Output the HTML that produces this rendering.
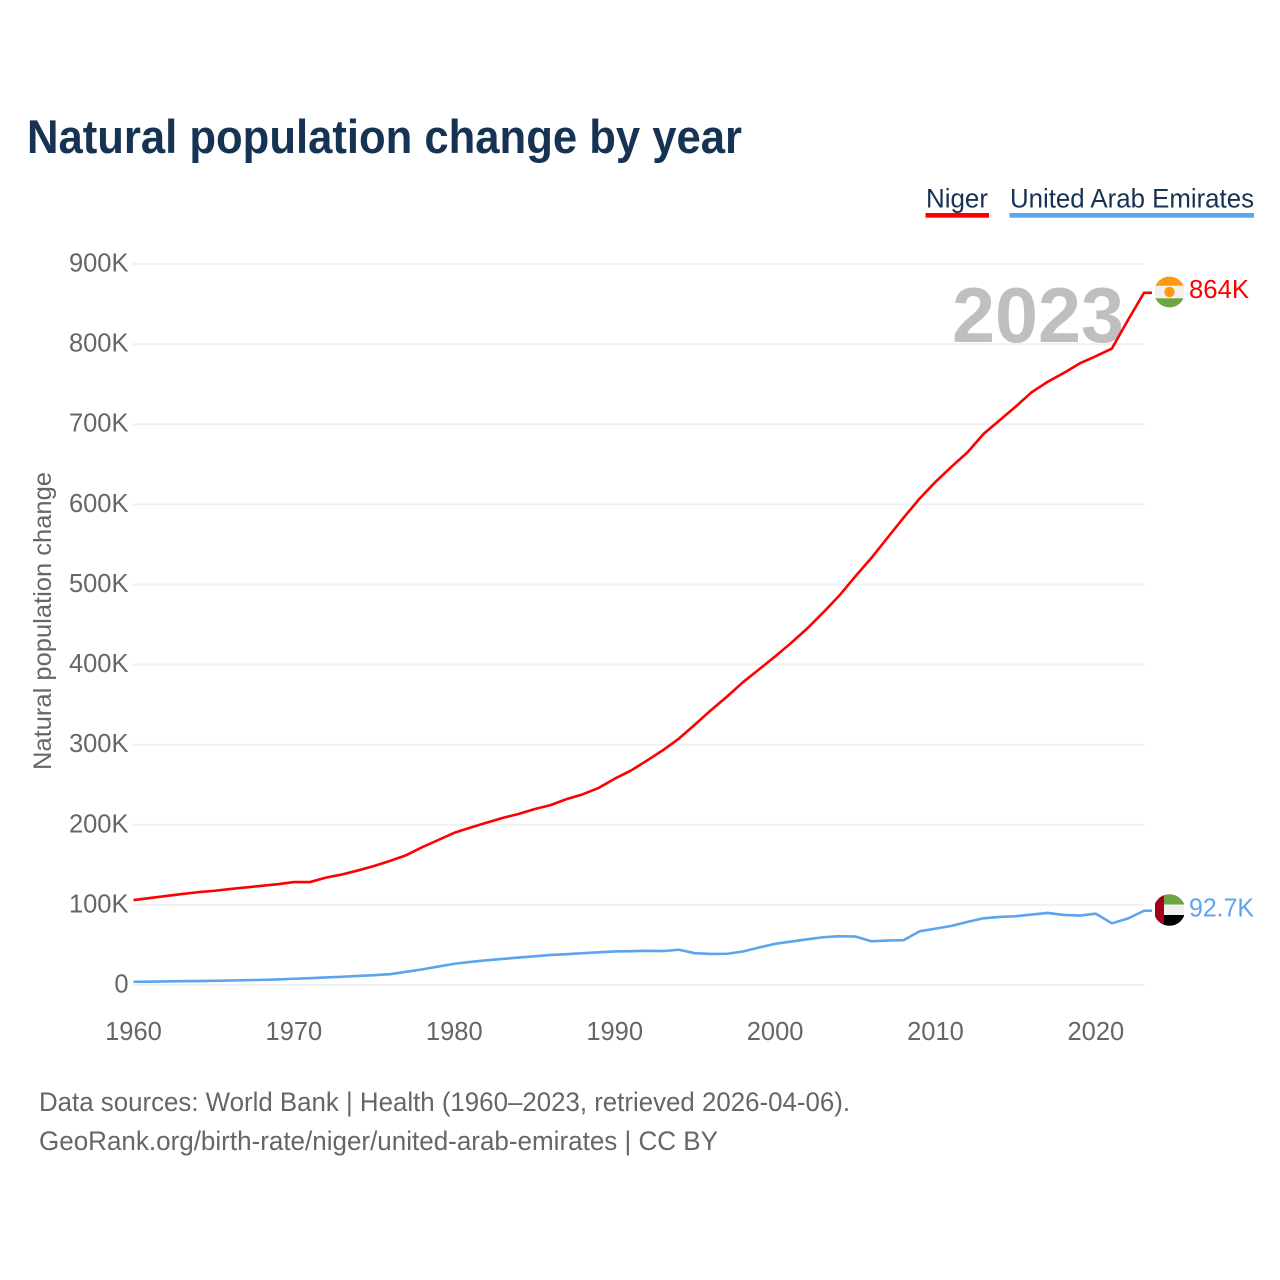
<!DOCTYPE html>
<html lang="en">
<head>
<meta charset="utf-8">
<title>Natural population change by year</title>
<style>
html,body{margin:0;padding:0;background:#fff;width:1280px;height:1280px;overflow:hidden}
svg{display:block;font-family:"Liberation Sans",sans-serif}
</style>
</head>
<body>
<svg id="chart" xmlns="http://www.w3.org/2000/svg" width="1280" height="1280" viewBox="0 0 1280 1280">
  <defs>
    <clipPath id="clip-niger"><circle cx="1169.5" cy="292" r="15.4"/></clipPath>
    <clipPath id="clip-uae"><circle cx="1169.5" cy="910" r="15.8"/></clipPath>
  </defs>
  <text x="27" y="153" font-size="47" font-weight="700" fill="#173353" textLength="715" lengthAdjust="spacingAndGlyphs">Natural population change by year</text>

  <g>
    <g>
      <text x="926" y="207.500" font-size="26.500" fill="#173353" textLength="62" lengthAdjust="spacingAndGlyphs">Niger</text>
      <rect x="925.500" y="213" width="63.500" height="4.700" fill="#ff0000"/>
    </g>
    <g>
      <text x="1010" y="207.500" font-size="26.500" fill="#173353" textLength="244" lengthAdjust="spacingAndGlyphs">United Arab Emirates</text>
      <rect x="1009.500" y="213" width="244.500" height="4.700" fill="#5ba4ee"/>
    </g>
  </g>

  <g id="grid"></g>
  <text x="952" y="342" font-size="78" font-weight="700" fill="#bfbfbf" textLength="172" lengthAdjust="spacingAndGlyphs">2023</text>
  <g id="y-ticks"></g>
  <g id="x-ticks"></g>
  <text transform="translate(51 621) rotate(-90)" text-anchor="middle" font-size="25" fill="#666666" textLength="298" lengthAdjust="spacingAndGlyphs">Natural population change</text>

  <g id="series"></g>

  <g clip-path="url(#clip-niger)">
    <rect x="1155" y="276" width="29" height="10" fill="#ff9811"/>
    <rect x="1155" y="285.700" width="29" height="12.600" fill="#f0f0f0"/>
    <rect x="1155" y="298.300" width="29" height="10" fill="#6da544"/>
    <circle cx="1169.500" cy="292" r="5.200" fill="#ff9811"/>
  </g>
  <g clip-path="url(#clip-uae)">
    <rect x="1155" y="894" width="29" height="11" fill="#6da544"/>
    <rect x="1155" y="904.500" width="29" height="11" fill="#f0f0f0"/>
    <rect x="1155" y="915" width="29" height="11" fill="#000000"/>
    <rect x="1155" y="894" width="9" height="32" fill="#a2001d"/>
  </g>
  <text x="1189" y="298" font-size="25.500" fill="#ff0000" textLength="60" lengthAdjust="spacingAndGlyphs">864K</text>
  <text x="1189" y="916.500" font-size="25.500" fill="#5ba4ee" textLength="65" lengthAdjust="spacingAndGlyphs">92.7K</text>

  <text x="39" y="1111" font-size="26.500" fill="#666666" textLength="811" lengthAdjust="spacingAndGlyphs">Data sources: World Bank | Health (1960–2023, retrieved 2026-04-06).</text>
  <text x="39" y="1150" font-size="26.500" fill="#666666" textLength="679" lengthAdjust="spacingAndGlyphs">GeoRank.org/birth-rate/niger/united-arab-emirates | CC BY</text>
</svg>
<script>
const years = [1960,1961,1962,1963,1964,1965,1966,1967,1968,1969,1970,1971,1972,1973,1974,1975,1976,1977,1978,1979,1980,1981,1982,1983,1984,1985,1986,1987,1988,1989,1990,1991,1992,1993,1994,1995,1996,1997,1998,1999,2000,2001,2002,2003,2004,2005,2006,2007,2008,2009,2010,2011,2012,2013,2014,2015,2016,2017,2018,2019,2020,2021,2022,2023];
const nigerValues = [106,108.5,111,113.5,115.8,117.5,119.8,121.8,123.8,125.8,128.5,128.5,134,138,143,148.5,155,162,172,181,190,196.5,202.5,208.5,213.5,219.5,224.5,232,238,246,257.5,267.5,280,293,307.5,325,343,360,378,394,410,427,445,465,486,510,533,558,583,607,628,647,665,688,705,722,740,753,764,776,785,794.5,830,864];
const uaeValues = [4,4.2,4.5,4.7,4.9,5.2,5.6,6,6.4,7,7.8,8.5,9.4,10.3,11.3,12.3,13.5,16.5,19.5,23,26.5,28.8,30.8,32.5,34.2,35.8,37.5,38.5,39.7,40.8,41.9,42.2,42.7,42.3,44,39.7,38.8,39,41.8,46.8,51.4,54.2,57,59.6,60.9,60.5,54.6,55.5,55.9,67,70.4,73.8,78.8,83.3,85,85.8,87.9,90,87.5,86.7,89,77,83,92.7];
const yTickValues = [0,100,200,300,400,500,600,700,800,900];
const yTickLabels = ["0","100K","200K","300K","400K","500K","600K","700K","800K","900K"];
const xTickValues = [1960,1970,1980,1990,2000,2010,2020];

const NS = "http://www.w3.org/2000/svg";
function xScale(year){ return 133.5 + (year - 1960) * (1144 - 133.5) / 63; }
function yScale(value){ return 985 - value * (985 - 264) / 900; }

const gridGroup = document.getElementById("grid");
const yTickGroup = document.getElementById("y-ticks");
const xTickGroup = document.getElementById("x-ticks");
const seriesGroup = document.getElementById("series");

yTickValues.forEach(function(value, i){
  const line = document.createElementNS(NS, "line");
  
  
  line.setAttribute("x1", 132.5);
  line.setAttribute("x2", 1144.5);
  line.setAttribute("y1", yScale(value));
  line.setAttribute("y2", yScale(value));
  line.setAttribute("stroke", "#f0f0f0");
  line.setAttribute("stroke-width", 2);
  gridGroup.appendChild(line);

  const label = document.createElementNS(NS, "text");
  
  
  label.setAttribute("x", 128.5);
  label.setAttribute("y", yScale(value) + 7.5);
  label.setAttribute("text-anchor", "end");
  label.setAttribute("font-size", 25.5);
  label.setAttribute("fill", "#666666");
  label.textContent = yTickLabels[i];
  yTickGroup.appendChild(label);
});

xTickValues.forEach(function(year){
  const label = document.createElementNS(NS, "text");
  
  
  label.setAttribute("x", xScale(year));
  label.setAttribute("y", 1040);
  label.setAttribute("text-anchor", "middle");
  label.setAttribute("font-size", 25.5);
  label.setAttribute("fill", "#666666");
  label.textContent = String(year);
  xTickGroup.appendChild(label);
});

function pathFor(values){
  let d = "";
  values.forEach(function(v, i){
    d += (i === 0 ? "M" : "L") + xScale(years[i]).toFixed(2) + " " + yScale(v).toFixed(2);
  });
  const last = values[values.length - 1];
  d += "L" + (xScale(years[years.length - 1]) + 8) + " " + yScale(last).toFixed(2);
  return d;
}

const uaeLine = document.createElementNS(NS, "path");


uaeLine.setAttribute("d", pathFor(uaeValues));
uaeLine.setAttribute("fill", "none");
uaeLine.setAttribute("stroke", "#5ba4ee");
uaeLine.setAttribute("stroke-width", 2.6);
uaeLine.setAttribute("stroke-linejoin", "round");
seriesGroup.appendChild(uaeLine);

const nigerLine = document.createElementNS(NS, "path");


nigerLine.setAttribute("d", pathFor(nigerValues));
nigerLine.setAttribute("fill", "none");
nigerLine.setAttribute("stroke", "#ff0000");
nigerLine.setAttribute("stroke-width", 2.6);
nigerLine.setAttribute("stroke-linejoin", "round");
seriesGroup.appendChild(nigerLine);
</script>
</body>
</html>
